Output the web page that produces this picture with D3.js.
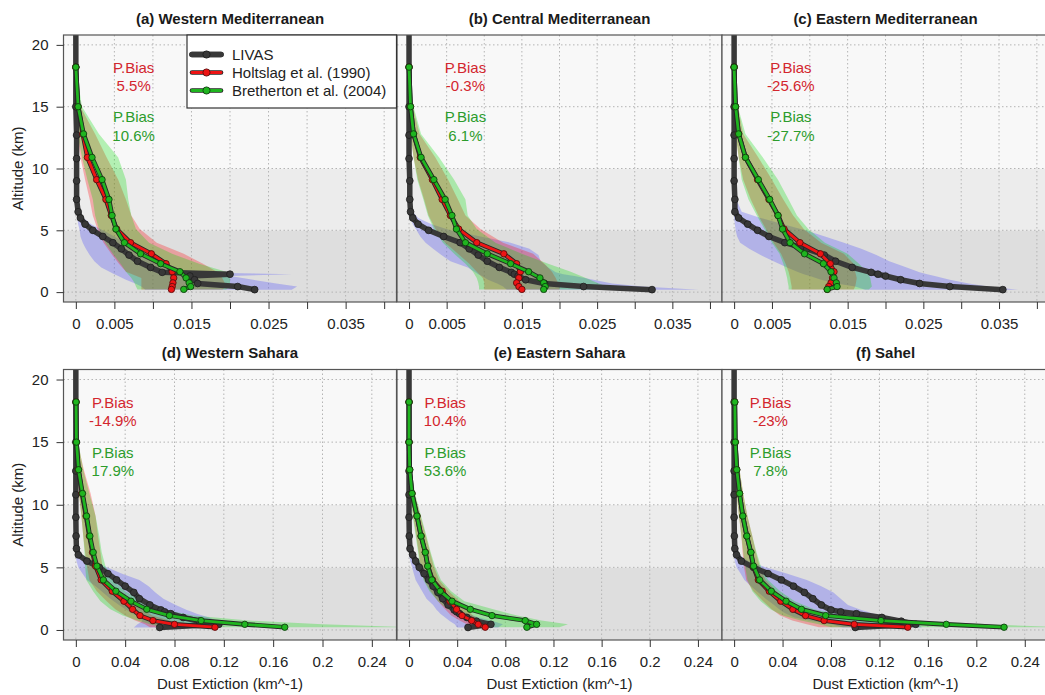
<!DOCTYPE html>
<html>
<head>
<meta charset="utf-8">
<script src="https://cdnjs.cloudflare.com/ajax/libs/d3/7.8.5/d3.min.js"></script>
<style>
  body { margin: 0; background: #fff; }
  svg { display: block; font-family: "Liberation Sans", Arial, sans-serif; }
</style>
</head>
<body>
<div id="chart"></div>
<script>
// ##########  DATA  ##########
var panelTitles = ["(a) Western Mediterranean", "(b) Central Mediterranean", "(c) Eastern Mediterranean",
                   "(d) Western Sahara", "(e) Eastern Sahara", "(f) Sahel"];
var seriesNames = ["LIVAS", "Holtslag et al. (1990)", "Bretherton et al. (2004)"];
var holtBias = ["5.5%", "-0.3%", "-25.6%", "-14.9%", "10.4%", "-23%"];
var brethBias = ["10.6%", "6.1%", "-27.7%", "17.9%", "53.6%", "7.8%"];

var yTicks = [0, 5, 10, 15, 20];
var xTicksTop = [0, 0.005, 0.01, 0.015, 0.02, 0.025, 0.03, 0.035, 0.04];
var xLabelsTop = [0, 0.005, 0.015, 0.025, 0.035];
var xTicksBottom = [0, 0.04, 0.08, 0.12, 0.16, 0.2, 0.24];

// altitude levels (km)
var livasAlt = [20.8, 18.2, 15, 12.7, 10.8, 9.0, 7.5, 6.5, 6.0, 5.5, 5.0, 4.5, 4.0, 3.5, 3.0, 2.5, 2.0, 1.6, 1.45, 1.3, 1.0, 0.7, 0.45, 0.2];
var modelAlt = [18.2, 15.0, 12.8, 10.9, 9.1, 7.5, 6.2, 5.1, 4.0, 3.1, 2.3, 1.65, 1.15, 0.75, 0.45, 0.22];

// LIVAS dust extinction (km^-1), one row per region
var livasMean = [
  [0, 0, 0, 0.0001, 0.0001, 0.0001, 0.0001, 0.0003, 0.0006, 0.0012, 0.0022, 0.0035, 0.0048, 0.0059, 0.0069, 0.0080, 0.0097, 0.0112, 0.0200, 0.0148, 0.0154, 0.0158, 0.0210, 0.0232],
  [0, 0, 0, 0, 0, 0.0001, 0.0001, 0.0002, 0.0005, 0.0012, 0.0026, 0.0046, 0.0068, 0.0080, 0.0092, 0.0104, 0.0120, 0.0136, 0.0140, 0.0145, 0.0155, 0.0180, 0.0232, 0.0323],
  [0, 0, 0, 0, 0, 0, 0.0001, 0.0001, 0.0006, 0.0018, 0.0031, 0.0046, 0.0067, 0.0096, 0.0119, 0.0134, 0.0156, 0.0181, 0.0190, 0.0200, 0.0220, 0.0245, 0.0285, 0.0355],
  [0, 0, 0, 0, 0, 0, 0.0002, 0.0005, 0.0020, 0.0090, 0.0190, 0.0260, 0.0330, 0.0400, 0.0470, 0.0515, 0.0600, 0.0690, 0.0720, 0.0770, 0.0870, 0.1000, 0.1160, 0.0680],
  [0, 0, 0, 0, 0, 0, 0.0002, 0.0008, 0.0030, 0.0055, 0.0085, 0.0125, 0.0163, 0.0200, 0.0240, 0.0280, 0.0325, 0.0375, 0.0395, 0.0420, 0.0480, 0.0560, 0.0680, 0.0490],
  [0, 0, 0, 0, 0, 0, 0.0002, 0.0006, 0.0020, 0.0060, 0.0160, 0.0280, 0.0390, 0.0490, 0.0580, 0.0650, 0.0720, 0.0800, 0.0880, 0.1010, 0.1220, 0.1380, 0.1500, 0.1000]
];
var livasLow = [
  [0, 0, 0, 0, 0, 0, 0, 0.0001, 0.0002, 0.0003, 0.0005, 0.0006, 0.0009, 0.0013, 0.0018, 0.0024, 0.0033, 0.0045, 0.0050, 0.0055, 0.0065, 0.0077, 0.0085, 0.0090],
  [0, 0, 0, 0, 0, 0, 0, 0.0001, 0.0002, 0.0005, 0.0010, 0.0015, 0.0022, 0.0032, 0.0043, 0.0055, 0.0078, 0.0088, 0.0092, 0.0097, 0.0105, 0.0117, 0.0125, 0.0130],
  [0, 0, 0, 0, 0, 0, 0, 0, 0, 0.0001, 0.0002, 0.0004, 0.0008, 0.0020, 0.0035, 0.0052, 0.0070, 0.0085, 0.0092, 0.0100, 0.0115, 0.0135, 0.0160, 0.0173],
  [0, 0, 0, 0, 0, 0, 0, 0, 0, 0.0005, 0.0020, 0.0055, 0.0090, 0.0160, 0.0220, 0.0280, 0.0350, 0.0410, 0.0435, 0.0460, 0.0520, 0.0540, 0.0500, 0.0470],
  [0, 0, 0, 0, 0, 0, 0, 0, 0.0002, 0.0010, 0.0025, 0.0040, 0.0055, 0.0085, 0.0115, 0.0145, 0.0200, 0.0230, 0.0245, 0.0260, 0.0300, 0.0340, 0.0380, 0.0400],
  [0, 0, 0, 0, 0, 0, 0, 0, 0, 0.0005, 0.0020, 0.0055, 0.0085, 0.0140, 0.0200, 0.0260, 0.0330, 0.0380, 0.0400, 0.0430, 0.0500, 0.0650, 0.0800, 0.0900]
];
var livasHigh = [
  [0, 0, 0.0001, 0.0001, 0.0002, 0.0002, 0.0003, 0.0006, 0.0010, 0.0020, 0.0035, 0.0050, 0.0063, 0.0075, 0.0088, 0.0100, 0.0115, 0.0135, 0.0280, 0.0200, 0.0230, 0.0260, 0.0287, 0.0280],
  [0, 0, 0.0001, 0.0001, 0.0001, 0.0002, 0.0003, 0.0005, 0.0012, 0.0030, 0.0055, 0.0095, 0.0135, 0.0160, 0.0172, 0.0175, 0.0185, 0.0195, 0.0205, 0.0220, 0.0245, 0.0270, 0.0310, 0.0385],
  [0, 0, 0.0001, 0.0001, 0.0001, 0.0002, 0.0003, 0.0010, 0.0035, 0.0065, 0.0094, 0.0120, 0.0145, 0.0168, 0.0188, 0.0205, 0.0228, 0.0245, 0.0255, 0.0265, 0.0285, 0.0310, 0.0335, 0.0375],
  [0, 0, 0.0005, 0.0005, 0.0005, 0.0008, 0.0010, 0.0015, 0.0050, 0.0140, 0.0250, 0.0375, 0.0515, 0.0590, 0.0645, 0.0710, 0.0810, 0.0900, 0.0940, 0.0980, 0.1080, 0.1150, 0.1170, 0.0700],
  [0, 0, 0.0003, 0.0005, 0.0005, 0.0008, 0.0010, 0.0020, 0.0050, 0.0085, 0.0125, 0.0170, 0.0210, 0.0250, 0.0290, 0.0330, 0.0380, 0.0420, 0.0450, 0.0490, 0.0580, 0.0700, 0.0780, 0.0740],
  [0, 0, 0.0005, 0.0005, 0.0005, 0.0008, 0.0010, 0.0010, 0.0040, 0.0120, 0.0260, 0.0440, 0.0600, 0.0720, 0.0820, 0.0880, 0.0940, 0.1050, 0.1100, 0.1150, 0.1320, 0.1450, 0.1520, 0.1550]
];

// Holtslag et al. (1990)
var holtMean = [
  [0, 0.0003, 0.0009, 0.0015, 0.0027, 0.0039, 0.0046, 0.0053, 0.0071, 0.0098, 0.0117, 0.0125, 0.0127, 0.0126, 0.0125, 0.0124],
  [0, 0.0002, 0.0006, 0.0015, 0.0031, 0.0044, 0.0055, 0.0066, 0.0090, 0.0126, 0.0143, 0.0148, 0.0146, 0.0143, 0.0146, 0.0150],
  [0, 0.0002, 0.0006, 0.0015, 0.0031, 0.0046, 0.0058, 0.0066, 0.0087, 0.0114, 0.0127, 0.0132, 0.0130, 0.0128, 0.0125, 0.0123],
  [0.0002, 0.0005, 0.0020, 0.0050, 0.0083, 0.0110, 0.0135, 0.0160, 0.0205, 0.0295, 0.0390, 0.0460, 0.0520, 0.0625, 0.0800, 0.1128],
  [0, 0, 0.0006, 0.0025, 0.0066, 0.0100, 0.0135, 0.0157, 0.0195, 0.0275, 0.0340, 0.0395, 0.0440, 0.0520, 0.0575, 0.0633],
  [0.0006, 0.0010, 0.0022, 0.0045, 0.0072, 0.0105, 0.0137, 0.0158, 0.0200, 0.0290, 0.0385, 0.0485, 0.0590, 0.0743, 0.0992, 0.1434]
];
var holtLow = [
  [0, 0, 0.0002, 0.0006, 0.0012, 0.0018, 0.0022, 0.0028, 0.0036, 0.0046, 0.0056, 0.0065, 0.0085, 0.0085, 0.0085, 0.0085],
  [0, 0, 0.0002, 0.0006, 0.0012, 0.0020, 0.0026, 0.0035, 0.0048, 0.0065, 0.0080, 0.0090, 0.0098, 0.0100, 0.0100, 0.0100],
  [0, 0, 0.0002, 0.0006, 0.0012, 0.0022, 0.0032, 0.0042, 0.0052, 0.0062, 0.0068, 0.0072, 0.0074, 0.0075, 0.0076, 0.0076],
  [0, 0, 0.0005, 0.0025, 0.0045, 0.0060, 0.0075, 0.0090, 0.0110, 0.0170, 0.0250, 0.0320, 0.0400, 0.0480, 0.0560, 0.0600],
  [0, 0, 0, 0.0012, 0.0035, 0.0060, 0.0080, 0.0095, 0.0125, 0.0180, 0.0240, 0.0300, 0.0350, 0.0420, 0.0480, 0.0520],
  [0, 0, 0.0005, 0.0020, 0.0040, 0.0060, 0.0070, 0.0080, 0.0100, 0.0160, 0.0240, 0.0310, 0.0380, 0.0480, 0.0600, 0.0700]
];
var holtHigh = [
  [0, 0.0006, 0.0025, 0.0040, 0.0055, 0.0065, 0.0072, 0.0083, 0.0105, 0.0140, 0.0165, 0.0183, 0.0190, 0.0193, 0.0196, 0.0190],
  [0, 0.0005, 0.0014, 0.0035, 0.0052, 0.0065, 0.0075, 0.0095, 0.0125, 0.0165, 0.0180, 0.0190, 0.0195, 0.0198, 0.0200, 0.0200],
  [0, 0.0005, 0.0012, 0.0032, 0.0050, 0.0065, 0.0078, 0.0092, 0.0115, 0.0145, 0.0158, 0.0160, 0.0162, 0.0161, 0.0160, 0.0158],
  [0.0005, 0.0015, 0.0065, 0.0120, 0.0160, 0.0180, 0.0200, 0.0215, 0.0250, 0.0350, 0.0450, 0.0540, 0.0620, 0.0760, 0.0950, 0.1150],
  [0, 0.0005, 0.0018, 0.0045, 0.0095, 0.0140, 0.0175, 0.0205, 0.0250, 0.0330, 0.0420, 0.0480, 0.0530, 0.0600, 0.0660, 0.0700],
  [0.0010, 0.0025, 0.0045, 0.0075, 0.0110, 0.0150, 0.0180, 0.0210, 0.0260, 0.0350, 0.0450, 0.0560, 0.0680, 0.0850, 0.1100, 0.1450]
];

// Bretherton et al. (2004)
var brethMean = [
  [0, 0.0003, 0.0010, 0.0021, 0.0034, 0.0043, 0.0047, 0.0052, 0.0063, 0.0084, 0.0110, 0.0135, 0.0143, 0.0147, 0.0149, 0.0140],
  [0, 0.0002, 0.0006, 0.0016, 0.0033, 0.0048, 0.0057, 0.0063, 0.0075, 0.0104, 0.0135, 0.0159, 0.0174, 0.0179, 0.0181, 0.0179],
  [0, 0.0002, 0.0006, 0.0015, 0.0032, 0.0047, 0.0058, 0.0064, 0.0074, 0.0093, 0.0118, 0.0128, 0.0132, 0.0135, 0.0136, 0.0123],
  [0.0002, 0.0005, 0.0022, 0.0054, 0.0087, 0.0114, 0.0141, 0.0171, 0.0223, 0.0325, 0.0447, 0.0575, 0.0759, 0.1016, 0.1370, 0.1694],
  [0, 0, 0.0006, 0.0025, 0.0066, 0.0100, 0.0135, 0.0155, 0.0190, 0.0260, 0.0357, 0.0509, 0.0689, 0.0965, 0.1060, 0.0979],
  [0.0006, 0.0010, 0.0022, 0.0045, 0.0072, 0.0105, 0.0139, 0.0161, 0.0211, 0.0307, 0.0429, 0.0556, 0.0756, 0.1213, 0.1752, 0.2229]
];
var brethLow = [
  [0, 0, 0.0002, 0.0008, 0.0015, 0.0022, 0.0025, 0.0030, 0.0038, 0.0048, 0.0058, 0.0065, 0.0072, 0.0076, 0.0078, 0.0080],
  [0, 0, 0.0002, 0.0006, 0.0011, 0.0019, 0.0025, 0.0033, 0.0045, 0.0060, 0.0075, 0.0085, 0.0090, 0.0092, 0.0093, 0.0093],
  [0, 0, 0.0002, 0.0006, 0.0010, 0.0019, 0.0030, 0.0040, 0.0050, 0.0060, 0.0065, 0.0068, 0.0070, 0.0071, 0.0072, 0.0072],
  [0, 0, 0.0005, 0.0025, 0.0045, 0.0060, 0.0070, 0.0075, 0.0085, 0.0140, 0.0200, 0.0280, 0.0380, 0.0500, 0.0600, 0.0700],
  [0, 0, 0, 0.0010, 0.0030, 0.0055, 0.0075, 0.0090, 0.0120, 0.0170, 0.0240, 0.0320, 0.0420, 0.0540, 0.0650, 0.0700],
  [0, 0, 0.0005, 0.0020, 0.0040, 0.0060, 0.0075, 0.0090, 0.0110, 0.0150, 0.0220, 0.0300, 0.0400, 0.0550, 0.0700, 0.0800]
];
var brethHigh = [
  [0, 0.0008, 0.0030, 0.0055, 0.0065, 0.0068, 0.0072, 0.0078, 0.0095, 0.0125, 0.0160, 0.0195, 0.0200, 0.0200, 0.0200, 0.0195],
  [0, 0.0006, 0.0016, 0.0040, 0.0060, 0.0075, 0.0078, 0.0090, 0.0115, 0.0150, 0.0185, 0.0215, 0.0235, 0.0250, 0.0262, 0.0265],
  [0, 0.0005, 0.0015, 0.0038, 0.0058, 0.0072, 0.0083, 0.0098, 0.0120, 0.0150, 0.0165, 0.0175, 0.0180, 0.0181, 0.0182, 0.0178],
  [0.0005, 0.0020, 0.0060, 0.0110, 0.0160, 0.0190, 0.0210, 0.0240, 0.0300, 0.0400, 0.0550, 0.0700, 0.0950, 0.1400, 0.2000, 0.2700],
  [0, 0.0005, 0.0020, 0.0050, 0.0100, 0.0145, 0.0180, 0.0215, 0.0265, 0.0350, 0.0460, 0.0700, 0.0900, 0.1100, 0.1320, 0.1250],
  [0.0010, 0.0025, 0.0045, 0.0075, 0.0110, 0.0150, 0.0185, 0.0220, 0.0280, 0.0380, 0.0500, 0.0660, 0.0900, 0.1500, 0.2100, 0.2700]
];

// ##########  ATTRIBUTES  ##########
var attrs = {
  width: 1045,
  height: 695,
  colLeft: [63.5, 397, 722],
  colRight: [396.5, 722, 1049],
  rowTop: [35, 369.5],
  rowBottom: [302, 640],
  xLimTop: [0, 0.04],
  xLimBottom: [0, 0.25],
  yLim: [0, 20],
  bandColors: ["#dedede", "#ececec", "#f8f8f8"],
  gridColor: "#b4b4b4",
  boxColor: "#555",
  textColor: "#222",
  tickFont: 15,
  labelFont: 15,
  titleFont: 15,
  livasColor: "#383838",
  holtColor: "#ee1414",
  brethColor: "#1fb51f",
  holtText: "#d3262e",
  brethText: "#2c9c2c",
  fillColors: ["rgba(60,60,255,0.27)", "rgba(255,0,0,0.28)", "rgba(0,220,0,0.28)"],
  biasX: [0.0075, 0.03],
  biasAlt: [18.2, 16.7, 14.2, 12.7]
};

//----------- PATTERNIFY  ----------------------
d3.selection.prototype.patternify = function (params) {
  var container = this;
  var selector = params.selector;
  var data = params.data || [selector];
  var selection = container.selectAll("." + selector).data(data);
  selection.exit().remove();
  selection = selection.enter().append(params.tag).merge(selection);
  selection.attr("class", selector);
  return selection;
};

var svg = d3.select("#chart").append("svg")
  .attr("width", attrs.width)
  .attr("height", attrs.height);

var defs = svg.append("defs");

function padLim(lim) {
  var p = (lim[1] - lim[0]) * 0.04;
  return [lim[0] - p, lim[1] + p];
}

function fmt(d) { return String(+d.toFixed(3)); }

function zipProfile(alt, mean) {
  return alt.map(function (a, i) { return { alt: a, ext: mean[i] }; });
}
function zipBand(alt, lo, hi) {
  return alt.map(function (a, i) { return { alt: a, lo: lo[i], hi: hi[i] }; });
}

panelTitles.forEach(function (title, i) {
  var row = Math.floor(i / 3), col = i % 3;
  var left = attrs.colLeft[col], right = attrs.colRight[col];
  var top = attrs.rowTop[row], bottom = attrs.rowBottom[row];

  var x = d3.scaleLinear().domain(padLim(row === 0 ? attrs.xLimTop : attrs.xLimBottom)).range([left, right]);
  var y = d3.scaleLinear().domain(padLim(attrs.yLim)).range([bottom, top]);
  var yDom = y.domain();

  var g = svg.append("g").attr("class", "panel panel" + i);

  defs.append("clipPath").attr("id", "clip" + i)
    .append("rect").attr("x", left).attr("y", top).attr("width", right - left).attr("height", bottom - top);

  var plot = g.append("g").attr("clip-path", "url(#clip" + i + ")");

  //  ##########  background layers  ##########
  var bands = [[yDom[0], 5], [5, 10], [10, yDom[1]]];
  plot.patternify({ tag: "rect", selector: "bg-band", data: bands })
    .attr("x", left).attr("width", right - left)
    .attr("y", function (d) { return y(d[1]); })
    .attr("height", function (d) { return y(d[0]) - y(d[1]); })
    .attr("fill", function (d, k) { return attrs.bandColors[k]; });

  //  ##########  grid  ##########
  var xTicks = row === 0 ? xTicksTop : xTicksBottom;
  plot.patternify({ tag: "line", selector: "grid-x", data: xTicks })
    .attr("x1", function (d) { return x(d); }).attr("x2", function (d) { return x(d); })
    .attr("y1", top).attr("y2", bottom)
    .attr("stroke", attrs.gridColor).attr("stroke-width", 1).attr("stroke-dasharray", "1.5,2.5");
  plot.patternify({ tag: "line", selector: "grid-y", data: yTicks })
    .attr("y1", function (d) { return y(d); }).attr("y2", function (d) { return y(d); })
    .attr("x1", left).attr("x2", right)
    .attr("stroke", attrs.gridColor).attr("stroke-width", 1).attr("stroke-dasharray", "1.5,2.5");

  //  ##########  spread polygons  ##########
  var area = d3.area()
    .y(function (d) { return y(d.alt); })
    .x0(function (d) { return x(d.lo); })
    .x1(function (d) { return x(d.hi); });

  var bandData = [
    zipBand(livasAlt, livasLow[i], livasHigh[i]),
    zipBand(modelAlt, holtLow[i], holtHigh[i]),
    zipBand(modelAlt, brethLow[i], brethHigh[i])
  ];
  plot.patternify({ tag: "path", selector: "spread", data: bandData })
    .attr("d", area)
    .attr("fill", function (d, k) { return attrs.fillColors[k]; })
    .attr("stroke", "none");

  //  ##########  profiles  ##########
  var line = d3.line()
    .x(function (d) { return x(d.ext); })
    .y(function (d) { return y(d.alt); });

  var livas = zipProfile(livasAlt, livasMean[i]);
  plot.append("path").datum(livas)
    .attr("d", line).attr("fill", "none")
    .attr("stroke", attrs.livasColor).attr("stroke-width", 5.5)
    .attr("stroke-linejoin", "round").attr("stroke-linecap", "round");
  plot.selectAll(".livas-pt").data(livas.slice(1)).enter().append("circle")
    .attr("class", "livas-pt")
    .attr("cx", function (d) { return x(d.ext); }).attr("cy", function (d) { return y(d.alt); })
    .attr("r", 3.4).attr("fill", attrs.livasColor).attr("stroke", "#1e1e1e").attr("stroke-width", 0.8);

  [[holtMean[i], attrs.holtColor, "#5a0d0d"], [brethMean[i], attrs.brethColor, "#0f3d0f"]].forEach(function (s, k) {
    var pts = zipProfile(modelAlt, s[0]);
    plot.append("path").datum(pts)
      .attr("d", line).attr("fill", "none")
      .attr("stroke", "#262626").attr("stroke-width", 4.6)
      .attr("stroke-linejoin", "round").attr("stroke-linecap", "round");
    plot.append("path").datum(pts)
      .attr("d", line).attr("fill", "none")
      .attr("stroke", s[1]).attr("stroke-width", 2.8)
      .attr("stroke-linejoin", "round").attr("stroke-linecap", "round");
    plot.selectAll(".model-pt" + k).data(pts).enter().append("circle")
      .attr("class", "model-pt" + k)
      .attr("cx", function (d) { return x(d.ext); }).attr("cy", function (d) { return y(d.alt); })
      .attr("r", 3.2).attr("fill", s[1]).attr("stroke", s[2]).attr("stroke-width", 0.9);
  });

  //  ##########  box & axes  ##########
  g.append("rect")
    .attr("x", left).attr("y", top).attr("width", right - left).attr("height", bottom - top)
    .attr("fill", "none").attr("stroke", attrs.boxColor).attr("stroke-width", 1.2);

  var labelled = row === 0 ? xLabelsTop : xTicksBottom;
  var xAxis = d3.axisBottom(x).tickValues(xTicks).tickSize(7).tickPadding(9)
    .tickFormat(function (d) {
      return labelled.some(function (v) { return Math.abs(v - d) < 1e-9; }) ? fmt(d) : "";
    });
  var ax = g.append("g").attr("transform", "translate(0," + bottom + ")").call(xAxis);
  ax.select(".domain").remove();
  ax.selectAll("line").attr("stroke", "#333");
  ax.selectAll("text").attr("font-size", attrs.tickFont).attr("fill", attrs.textColor)
    .attr("font-family", "Liberation Sans, Arial, sans-serif");

  if (col === 0) {
    var yAxis = d3.axisLeft(y).tickValues(yTicks).tickSize(7).tickPadding(8);
    var ay = g.append("g").attr("transform", "translate(" + left + ",0)").call(yAxis);
    ay.select(".domain").remove();
    ay.selectAll("line").attr("stroke", "#333");
    ay.selectAll("text").attr("font-size", attrs.tickFont).attr("fill", attrs.textColor)
      .attr("font-family", "Liberation Sans, Arial, sans-serif");

    g.append("text")
      .attr("transform", "translate(23," + ((top + bottom) / 2) + ") rotate(-90)")
      .attr("text-anchor", "middle").attr("font-size", attrs.labelFont).attr("fill", attrs.textColor)
      .text("Altitude (km)");
  }

  if (row === 1) {
    g.append("text")
      .attr("x", (left + right) / 2).attr("y", 688.5)
      .attr("text-anchor", "middle").attr("font-size", attrs.labelFont).attr("fill", attrs.textColor)
      .text("Dust Extiction (km^-1)");
  }

  //  ##########  title  ##########
  g.append("text")
    .attr("x", (left + right) / 2).attr("y", top - 11.5)
    .attr("text-anchor", "middle").attr("font-size", attrs.titleFont).attr("font-weight", "bold")
    .attr("fill", "#1a1a1a")
    .text(title);

  //  ##########  P.Bias labels  ##########
  var bx = x(attrs.biasX[row]);
  var biasLines = [
    ["P.Bias", attrs.holtText], [holtBias[i], attrs.holtText],
    ["P.Bias", attrs.brethText], [brethBias[i], attrs.brethText]
  ];
  g.patternify({ tag: "text", selector: "bias", data: biasLines })
    .attr("x", bx)
    .attr("y", function (d, k) { return y(attrs.biasAlt[k]) + 5.5; })
    .attr("text-anchor", "middle").attr("font-size", 15)
    .attr("fill", function (d) { return d[1]; })
    .text(function (d) { return d[0]; });
});

//  ##########  legend  ##########
var legend = svg.append("g").attr("class", "legend");
legend.append("rect")
  .attr("x", 187).attr("y", 35).attr("width", 209.5).attr("height", 73)
  .attr("fill", "#fff").attr("stroke", "#333").attr("stroke-width", 1.2);

var legendColors = [[attrs.livasColor, "#1e1e1e"], [attrs.holtColor, "#5a0d0d"], [attrs.brethColor, "#0f3d0f"]];
var items = legend.patternify({ tag: "g", selector: "legend-item", data: seriesNames })
  .attr("transform", function (d, k) { return "translate(0," + (54.5 + k * 18) + ")"; });
items.append("line")
  .attr("x1", 192).attr("x2", 221)
  .attr("stroke", "#262626").attr("stroke-width", function (d, k) { return k === 0 ? 5.5 : 4.6; })
  .attr("stroke-linecap", "round");
items.append("line")
  .attr("x1", 192).attr("x2", 221)
  .attr("stroke", function (d, k) { return legendColors[k][0]; })
  .attr("stroke-width", function (d, k) { return k === 0 ? 5.5 : 2.8; })
  .attr("stroke-linecap", "round");
items.append("circle")
  .attr("cx", 206.5).attr("r", 3.6)
  .attr("fill", function (d, k) { return legendColors[k][0]; })
  .attr("stroke", function (d, k) { return legendColors[k][1]; }).attr("stroke-width", 0.9);
items.append("text")
  .attr("x", 232).attr("y", 5)
  .attr("font-size", 15).attr("fill", attrs.textColor)
  .text(function (d) { return d; });
</script>
</body>
</html>
